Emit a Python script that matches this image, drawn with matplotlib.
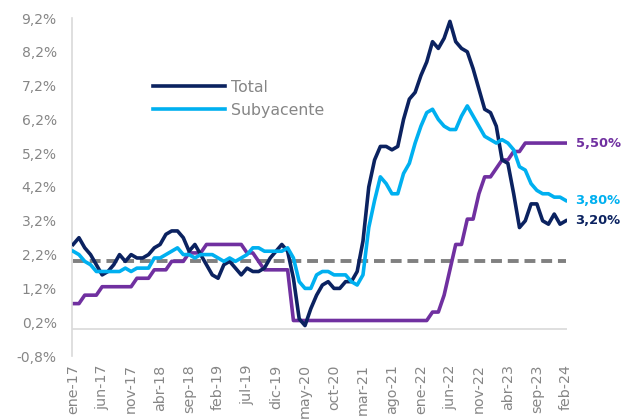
import matplotlib
matplotlib.use("Agg")
import matplotlib.pyplot as plt
import numpy as np

meses = ['ene', 'feb', 'mar', 'abr', 'may', 'jun', 'jul', 'ago', 'sep', 'oct', 'nov', 'dic']
fechas = [f"{m}-{a:02d}" for a in range(17, 25) for m in meses][:86]

total = [2.5, 2.7, 2.4, 2.2, 1.9, 1.6, 1.7, 1.9, 2.2, 2.0, 2.2, 2.1,
         2.1, 2.2, 2.4, 2.5, 2.8, 2.9, 2.9, 2.7, 2.3, 2.5, 2.2, 1.9,
         1.6, 1.5, 1.9, 2.0, 1.8, 1.6, 1.8, 1.7, 1.7, 1.8, 2.1, 2.3,
         2.5, 2.3, 1.5, 0.3, 0.1, 0.6, 1.0, 1.3, 1.4, 1.2, 1.2, 1.4,
         1.4, 1.7, 2.6, 4.2, 5.0, 5.4, 5.4, 5.3, 5.4, 6.2, 6.8, 7.0,
         7.5, 7.9, 8.5, 8.3, 8.6, 9.1, 8.5, 8.3, 8.2, 7.7, 7.1, 6.5,
         6.4, 6.0, 5.0, 4.9, 4.0, 3.0, 3.2, 3.7, 3.7, 3.2, 3.1, 3.4,
         3.1, 3.2]

subyacente = [2.3, 2.2, 2.0, 1.9, 1.7, 1.7, 1.7, 1.7, 1.7, 1.8, 1.7, 1.8,
              1.8, 1.8, 2.1, 2.1, 2.2, 2.3, 2.4, 2.2, 2.2, 2.1, 2.2, 2.2,
              2.2, 2.1, 2.0, 2.1, 2.0, 2.1, 2.2, 2.4, 2.4, 2.3, 2.3, 2.3,
              2.3, 2.4, 2.1, 1.4, 1.2, 1.2, 1.6, 1.7, 1.7, 1.6, 1.6, 1.6,
              1.4, 1.3, 1.6, 3.0, 3.8, 4.5, 4.3, 4.0, 4.0, 4.6, 4.9, 5.5,
              6.0, 6.4, 6.5, 6.2, 6.0, 5.9, 5.9, 6.3, 6.6, 6.3, 6.0, 5.7,
              5.6, 5.5, 5.6, 5.5, 5.3, 4.8, 4.7, 4.3, 4.1, 4.0, 4.0, 3.9,
              3.9, 3.8]

tasa_fed = [0.75, 0.75, 1.0, 1.0, 1.0, 1.25, 1.25, 1.25, 1.25, 1.25, 1.25, 1.5,
            1.5, 1.5, 1.75, 1.75, 1.75, 2.0, 2.0, 2.0, 2.25, 2.25, 2.25, 2.5,
            2.5, 2.5, 2.5, 2.5, 2.5, 2.5, 2.25, 2.25, 2.0, 1.75, 1.75, 1.75,
            1.75, 1.75, 0.25, 0.25, 0.25, 0.25, 0.25, 0.25, 0.25, 0.25, 0.25, 0.25,
            0.25, 0.25, 0.25, 0.25, 0.25, 0.25, 0.25, 0.25, 0.25, 0.25, 0.25, 0.25,
            0.25, 0.25, 0.5, 0.5, 1.0, 1.75, 2.5, 2.5, 3.25, 3.25, 4.0, 4.5,
            4.5, 4.75, 5.0, 5.0, 5.25, 5.25, 5.5, 5.5, 5.5, 5.5, 5.5, 5.5,
            5.5, 5.5]

objetivo = 2.0
yticks = [-0.8, 0.2, 1.2, 2.2, 3.2, 4.2, 5.2, 6.2, 7.2, 8.2, 9.2]

c_total = '#0b2260'
c_sub = '#00b0f0'
c_fed = '#7030a0'
c_gray = '#868686'

plt.rcParams['font.family'] = ['DejaVu Sans']

fig = plt.figure(figsize=(6.28, 4.19), dpi=100)
ax = fig.add_axes([72/628, 1-356/419, (567-72)/628, (356-18)/419])

x = np.arange(len(fechas))
ax.plot(x, [objetivo]*len(x), color='#808080', lw=2.8, ls=(0, (2.8, 1.5)), zorder=1)
ax.plot(x, tasa_fed, color=c_fed, lw=2.6, zorder=2)
ax.plot(x, total, color=c_total, lw=2.6, zorder=3, label='Total')
ax.plot(x, subyacente, color=c_sub, lw=2.6, zorder=4, label='Subyacente')
ax.axhline(0, color='#d9d9d9', lw=1.2, zorder=0)

ax.set_xlim(-0.2, 85.2)
ax.set_ylim(-0.8, 9.2)
ax.set_yticks(yticks)
ax.set_yticklabels([f"{v:.1f}%".replace('.', ',') for v in yticks], color=c_gray, fontsize=10)
ax.set_xticks(x[::5])
ax.set_xticklabels(fechas[::5], rotation=90, color=c_gray, fontsize=10.3)
ax.tick_params(axis='y', length=0, pad=11)
ax.tick_params(axis='x', length=0, pad=6)

for s in ['top', 'right', 'bottom']:
    ax.spines[s].set_visible(False)
ax.spines['left'].set_color('#d9d9d9')
ax.spines['left'].set_linewidth(1.2)

leg = ax.legend(loc='upper left', bbox_to_anchor=(0.164, 0.818), frameon=False, borderpad=0,
                borderaxespad=0, fontsize=11.3, handlelength=4.6, handletextpad=0.35,
                labelspacing=0.53)
for t in leg.get_texts():
    t.set_color(c_gray)

ax.annotate(f"{tasa_fed[-1]:.2f}%".replace('.', ','), xy=(x[-1], tasa_fed[-1]), xytext=(7, 0),
            textcoords='offset points', va='center', ha='left', color=c_fed,
            fontsize=9.4, fontweight='bold', annotation_clip=False)
ax.annotate(f"{subyacente[-1]:.2f}%".replace('.', ','), xy=(x[-1], subyacente[-1]), xytext=(7, 0),
            textcoords='offset points', va='center', ha='left', color=c_sub,
            fontsize=9.4, fontweight='bold', annotation_clip=False)
ax.annotate(f"{total[-1]:.2f}%".replace('.', ','), xy=(x[-1], total[-1]), xytext=(7, 0),
            textcoords='offset points', va='center', ha='left', color=c_total,
            fontsize=9.4, fontweight='bold', annotation_clip=False)

fig.savefig('out.png', dpi=100)
